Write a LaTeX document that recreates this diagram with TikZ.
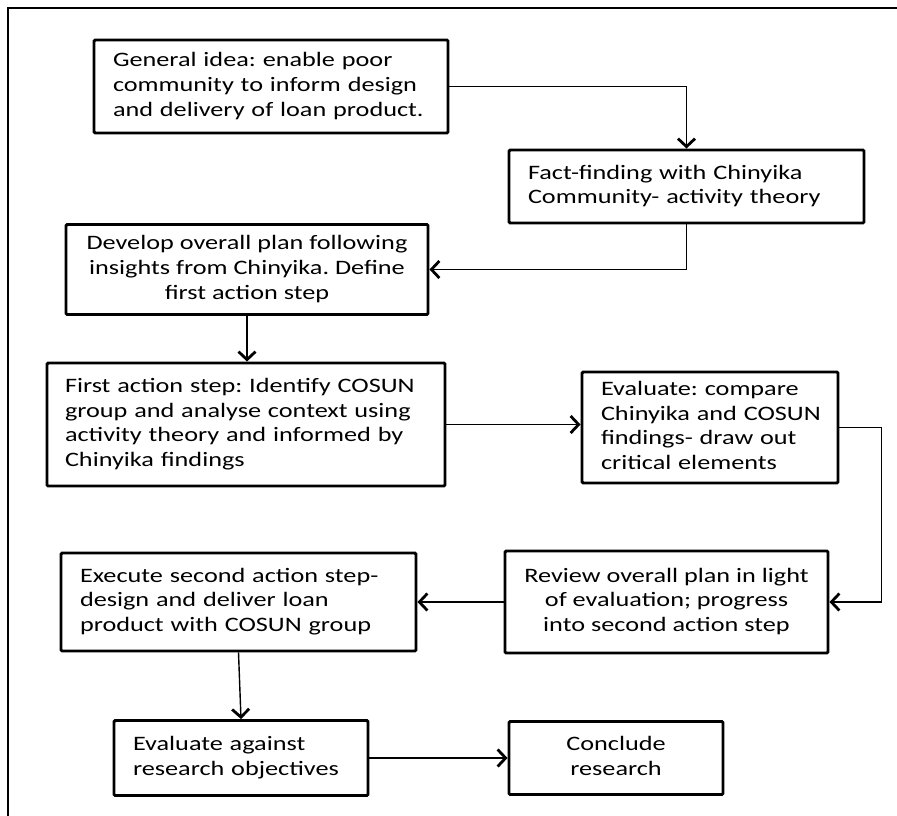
\documentclass[tikz,border=0pt]{standalone}
\usepackage{fontspec}
\setmainfont{Carlito}[FakeStretch=1.28]
\usetikzlibrary{arrows.meta}
\setlength\parindent{0pt}
\frenchspacing
\newcommand\boxfont{\fontsize{20.5}{24.7}\selectfont}
\newcommand\leftlines[1]{\begin{tabular}{@{}l@{}}#1\end{tabular}}
\newcommand\midlines[1]{\begin{tabular}{@{}c@{}}#1\end{tabular}}
\tikzset{
  stepbox/.style={draw, line width=2.9pt, rounded corners=1.2pt, inner sep=0pt,
    font=\boxfont},
  leftbox/.style={stepbox, align=left},
  midbox/.style={stepbox, align=center},
  link/.style={line width=1.4pt,
    -{Straight Barb[length=8pt,width=17pt,line width=2.8pt]}},
  frame/.style={line width=1.2pt}
}
\begin{document}
\begin{tikzpicture}[x=1pt,y=-1pt]
\useasboundingbox (0,0) rectangle (897,816);
\draw[frame] (8,816) -- (8,8) -- (897,8);

\node[leftbox, minimum width=354, minimum height=93, text width=316] (idea) at (271,86.5)
  {\leftlines{General idea: enable poor\\community to inform design\\and delivery of loan product.}};
\node[leftbox, minimum width=355, minimum height=73, text width=317] (fact) at (686.5,186.5)
  {\leftlines{Fact-finding with Chinyika\\Community- activity theory}};
\node[midbox, minimum width=362, minimum height=90] (plan) at (247,269.5)
  {\midlines{Develop overall plan following\\insights from Chinyika. Define\\first action step}};
\node[leftbox, minimum width=398, minimum height=123, text width=362] (first) at (246,424.5)
  {\leftlines{First action step: Identify COSUN\\group and analyse context using\\activity theory and informed by\\Chinyika findings}};
\node[leftbox, minimum width=256, minimum height=111, text width=218] (compare) at (710,427.5)
  {\leftlines{Evaluate: compare\\Chinyika and COSUN\\findings- draw out\\critical elements}};
\node[midbox, minimum width=323, minimum height=102] (review) at (666.5,602)
  {\midlines{Review overall plan in light\\of evaluation; progress\\into second action step}};
\node[leftbox, minimum width=355, minimum height=98, text width=317] (execute) at (238.5,602)
  {\leftlines{Execute second action step-\\design and deliver loan\\product with COSUN group}};
\node[leftbox, minimum width=254, minimum height=75, text width=216] (objectives) at (241,758)
  {\leftlines{Evaluate against\\research objectives}};
\node[midbox, minimum width=214, minimum height=73] (conclude) at (616,758)
  {\midlines{Conclude\\research}};

\draw[link] (idea.east) -| (fact.north);
\draw[link] (fact.south) |- (plan.east);
\draw[link] (plan.south) -- (plan.south |- first.north);
\draw[link] (first.east) -- (first.east -| compare.west);
\draw[link] (compare.east) -- ++(42,0) |- (review.east);
\draw[link] (review.west) -- (execute.east);
\draw[link] (execute.south) -- (objectives.north);
\draw[link] (objectives.east) -- (conclude.west);
\end{tikzpicture}
\end{document}
